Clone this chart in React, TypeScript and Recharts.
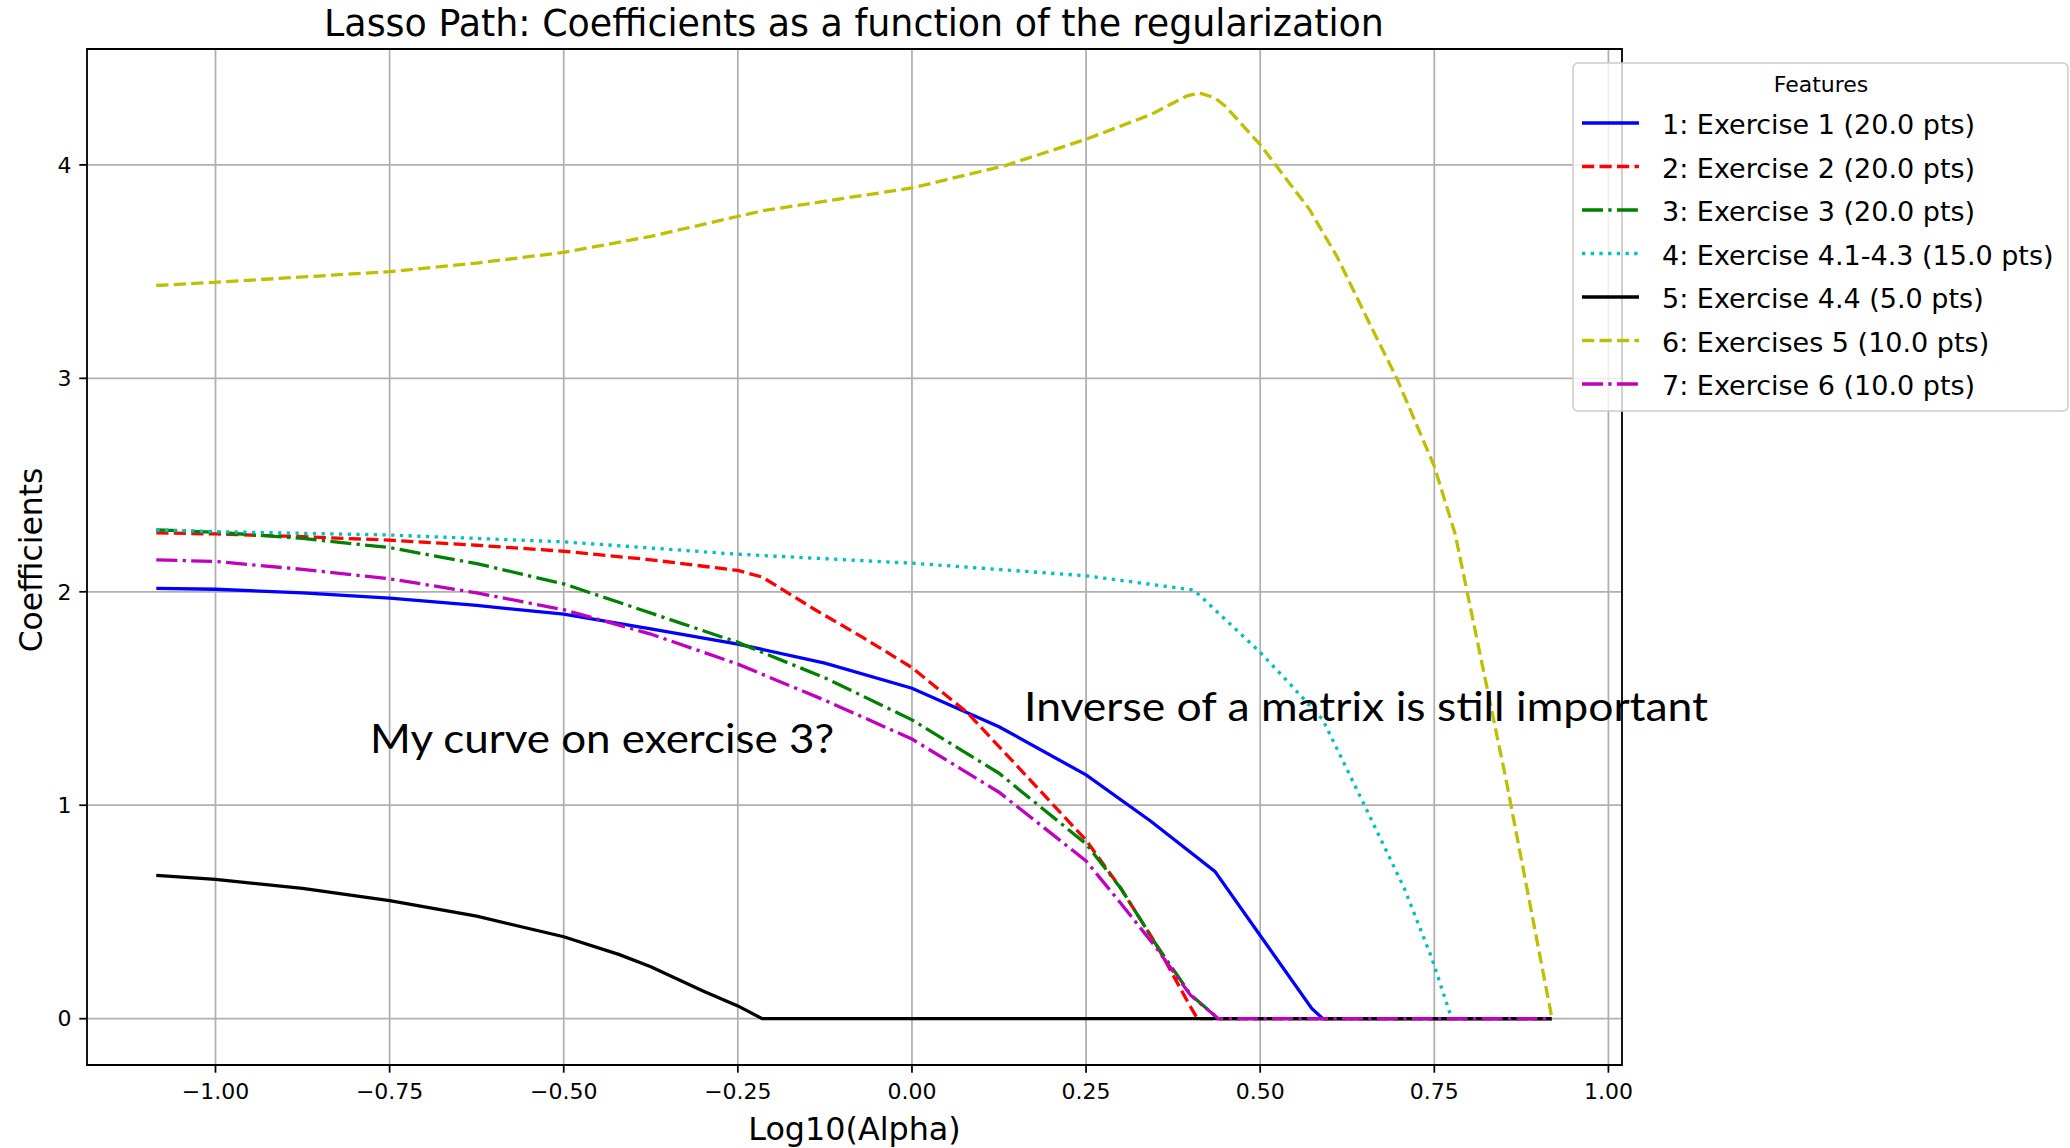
import { CartesianGrid, Line, LineChart, ReferenceArea, ReferenceDot, XAxis, YAxis } from "recharts";

const FONT = '"DejaVu Sans", sans-serif';

// axis setup (log10 alpha on x, coefficient on y)
const xTicks = [-1, -0.75, -0.5, -0.25, 0, 0.25, 0.5, 0.75, 1];
const yTicks = [0, 1, 2, 3, 4];
const xDomain = [-1.1845, 1.0195];
const yDomain = [-0.217, 4.543];

// [log10(alpha), coefficient]
const exercise1 = [
  [-1.085, 2.016], [-1.0, 2.012], [-0.875, 1.995], [-0.75, 1.97], [-0.625, 1.936], [-0.5, 1.895],
  [-0.375, 1.826], [-0.25, 1.755], [-0.125, 1.666], [0, 1.548], [0.125, 1.368], [0.25, 1.142],
  [0.343, 0.925], [0.435, 0.69], [0.5, 0.39], [0.574, 0.048], [0.59, 0], [0.919, 0],
];
const exercise2 = [
  [-1.085, 2.276], [-1.0, 2.271], [-0.875, 2.258], [-0.75, 2.242], [-0.625, 2.218], [-0.5, 2.19],
  [-0.375, 2.15], [-0.25, 2.1], [-0.215, 2.069], [-0.139, 1.916], [-0.07, 1.785], [0, 1.645],
  [0.08, 1.432], [0.163, 1.142], [0.25, 0.836], [0.3, 0.61], [0.35, 0.352], [0.399, 0.061],
  [0.41, 0], [0.919, 0],
];
const exercise3 = [
  [-1.085, 2.29], [-1.0, 2.279], [-0.875, 2.25], [-0.75, 2.207], [-0.625, 2.132], [-0.5, 2.037],
  [-0.411, 1.94], [-0.33, 1.851], [-0.25, 1.763], [-0.123, 1.594], [0, 1.4], [0.125, 1.15],
  [0.25, 0.819], [0.3, 0.61], [0.35, 0.35], [0.4, 0.113], [0.44, 0], [0.919, 0],
];
const exercise41 = [
  [-1.085, 2.29], [-1.0, 2.282], [-0.75, 2.266], [-0.5, 2.234], [-0.25, 2.176], [-0.215, 2.17],
  [0, 2.134], [0.25, 2.075], [0.405, 2.008], [0.45, 1.87], [0.498, 1.723], [0.54, 1.578],
  [0.59, 1.4], [0.649, 1.005], [0.707, 0.61], [0.746, 0.287], [0.775, 0], [0.919, 0],
];
const exercise44 = [
  [-1.085, 0.671], [-1.0, 0.653], [-0.875, 0.61], [-0.75, 0.553], [-0.625, 0.48], [-0.5, 0.384],
  [-0.42, 0.3], [-0.375, 0.243], [-0.3, 0.13], [-0.25, 0.06], [-0.215, 0], [0.919, 0],
];
const exercises5 = [
  [-1.085, 3.435], [-1.0, 3.45], [-0.875, 3.475], [-0.75, 3.5], [-0.625, 3.54], [-0.5, 3.59],
  [-0.375, 3.665], [-0.215, 3.785], [0, 3.892], [0.134, 3.997], [0.25, 4.12], [0.343, 4.236],
  [0.396, 4.325], [0.413, 4.337], [0.435, 4.314], [0.45, 4.275], [0.5, 4.095], [0.571, 3.79],
  [0.61, 3.572], [0.659, 3.244], [0.697, 2.994], [0.75, 2.588], [0.78, 2.27], [0.853, 1.12],
  [0.919, 0],
];
const exercise6 = [
  [-1.085, 2.15], [-1.0, 2.142], [-0.875, 2.105], [-0.75, 2.061], [-0.625, 1.995], [-0.5, 1.916],
  [-0.375, 1.802], [-0.25, 1.661], [-0.123, 1.489], [0, 1.31], [0.125, 1.061], [0.25, 0.739],
  [0.3, 0.54], [0.35, 0.335], [0.4, 0.11], [0.44, 0], [0.919, 0],
];

const SOLID = undefined;
const DASHED = "12.2 5.3";
const DOTTED = "3.3 5.4";
const DASHDOT = "21 5.3 3.3 5.3";

const series = [
  { key: "ex1", label: "1: Exercise 1 (20.0 pts)", color: "#0000ff", dash: SOLID, points: exercise1 },
  { key: "ex2", label: "2: Exercise 2 (20.0 pts)", color: "#ff0000", dash: DASHED, points: exercise2 },
  { key: "ex3", label: "3: Exercise 3 (20.0 pts)", color: "#008000", dash: DASHDOT, points: exercise3 },
  { key: "ex41", label: "4: Exercise 4.1-4.3 (15.0 pts)", color: "#00bfbf", dash: DOTTED, points: exercise41 },
  { key: "ex44", label: "5: Exercise 4.4 (5.0 pts)", color: "#000000", dash: SOLID, points: exercise44 },
  { key: "ex5", label: "6: Exercises 5 (10.0 pts)", color: "#bfbf00", dash: DASHED, points: exercises5 },
  { key: "ex6", label: "7: Exercise 6 (10.0 pts)", color: "#bf00bf", dash: DASHDOT, points: exercise6 },
];

// text notes pasted on top of the figure, anchored in data units
const notes = [
  { text: "My curve on exercise 3?", alpha: -0.778, coef: 1.247, width: 464 },
  { text: "Inverse of a matrix is still important", alpha: 0.161, coef: 1.3925, width: 684 },
];

const toRows = (pts: number[][]) => pts.map(([alpha, coef]) => ({ alpha, coef }));

const fmtX = (v: number) => (v < 0 ? "\u2212" : "") + Math.abs(v).toFixed(2);

function FeaturesLegend() {
  return (
    <svg
      width={498}
      height={351}
      style={{ position: "absolute", left: 1572, top: 62, pointerEvents: "none" }}
    >
      <rect x={1} y={1} width={495} height={348} rx={5} fill="rgba(255,255,255,0.8)" stroke="#cccccc" strokeWidth={1.5} />
      <text x={249} y={30} textAnchor="middle" fontFamily={FONT} fontSize={22} fill="#000">
        Features
      </text>
      {series.map((s, i) => {
        const cy = 61 + i * 43.5;
        return (
          <g key={s.key}>
            <line x1={10} x2={67} y1={cy} y2={cy} stroke={s.color} strokeWidth={3.3} strokeDasharray={s.dash} />
            <text x={90} y={cy + 11} fontFamily={FONT} fontSize={27} fill="#000">
              {s.label}
            </text>
          </g>
        );
      })}
    </svg>
  );
}

export default function App() {
  return (
    <div style={{ position: "fixed", left: 0, top: 0, width: 2070, height: 1148, background: "#fff" }}>
      <LineChart width={2070} height={1148} margin={{ top: 49, right: 448, bottom: 0, left: 0 }}>
        <CartesianGrid stroke="#b0b0b0" strokeWidth={1.76} />
        <XAxis
          dataKey="alpha"
          type="number"
          domain={xDomain}
          allowDataOverflow
          ticks={xTicks}
          tickFormatter={fmtX}
          height={83}
          axisLine={false}
          tickSize={7.7}
          tickMargin={10.3}
          tickLine={{ stroke: "#000", strokeWidth: 1.76 }}
          tick={{ fill: "#000", fontSize: 22, fontFamily: FONT }}
          label={{
            content: ({ viewBox }: any) => (
              <text
                x={viewBox.x + viewBox.width / 2}
                y={viewBox.y + 75}
                textAnchor="middle"
                fontFamily={FONT}
                fontSize={31.8}
                fill="#000"
              >
                Log10(Alpha)
              </text>
            ),
          }}
        />
        <YAxis
          type="number"
          domain={yDomain}
          allowDataOverflow
          ticks={yTicks}
          width={87}
          axisLine={false}
          tickSize={7.7}
          tickMargin={7.7}
          tickLine={{ stroke: "#000", strokeWidth: 1.76 }}
          tick={{ fill: "#000", fontSize: 22, fontFamily: FONT }}
          label={{
            content: ({ viewBox }: any) => {
              const cx = viewBox.x + 42;
              const cy = viewBox.y + viewBox.height / 2 + 3;
              return (
                <text
                  x={cx}
                  y={cy}
                  transform={`rotate(-90, ${cx}, ${cy})`}
                  textAnchor="middle"
                  fontFamily={FONT}
                  fontSize={31.4}
                  fill="#000"
                >
                  Coefficients
                </text>
              );
            },
          }}
        />
        {series.map((s) => (
          <Line
            key={s.key}
            data={toRows(s.points)}
            dataKey="coef"
            type="linear"
            stroke={s.color}
            strokeWidth={3.3}
            strokeDasharray={s.dash}
            dot={false}
            activeDot={false}
            isAnimationActive={false}
          />
        ))}
        <ReferenceArea
          x1={xDomain[0]}
          x2={xDomain[1]}
          y1={yDomain[0]}
          y2={yDomain[1]}
          fill="none"
          fillOpacity={0}
          stroke="#000"
          strokeWidth={1.76}
          ifOverflow="visible"
        />
        {notes.map((n) => (
          <ReferenceDot
            key={n.text}
            x={n.alpha}
            y={n.coef}
            r={0}
            ifOverflow="visible"
            shape={(p: any) => (
              <text
                x={p.cx}
                y={p.cy}
                fontFamily="Lato, 'Open Sans', sans-serif"
                fontSize={40}
                textLength={n.width}
                lengthAdjust="spacingAndGlyphs"
                fill="#000"
              >
                {n.text}
              </text>
            )}
          />
        ))}
      </LineChart>
      <svg width={2070} height={60} style={{ position: "absolute", left: 0, top: 0, pointerEvents: "none" }}>
        <text x={854} y={36} textAnchor="middle" fontFamily={FONT} fontSize={36.4} fill="#000">
          Lasso Path: Coefficients as a function of the regularization
        </text>
      </svg>
      <FeaturesLegend />
    </div>
  );
}
